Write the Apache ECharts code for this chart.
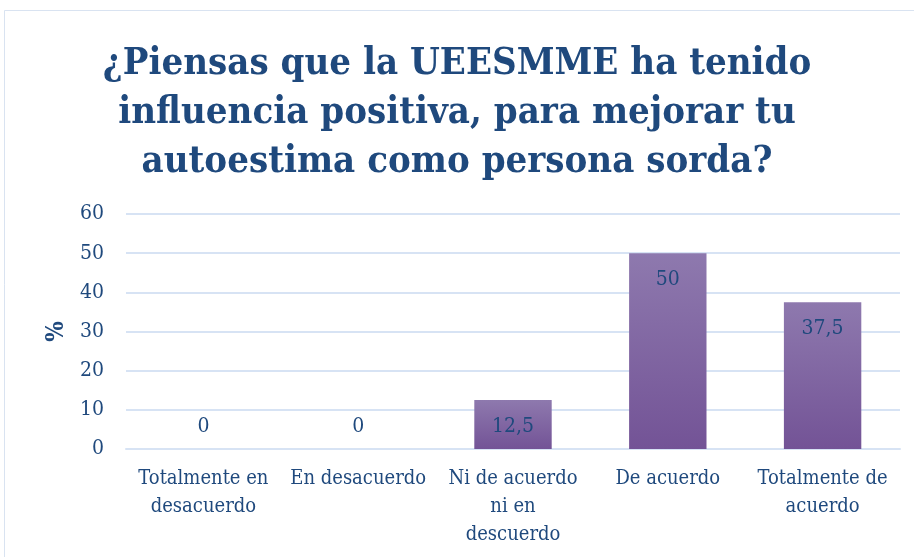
<!DOCTYPE html>
<html>
<head>
<meta charset="utf-8">
<script src="https://cdn.jsdelivr.net/npm/echarts@6/dist/echarts.min.js"></script>
<style>
  html, body { margin: 0; padding: 0; background: #fff; }
  #chart { width: 914px; height: 557px; }
</style>
</head>
<body>
<div id="chart"></div>
<script>
const titleText = '¿Piensas que la UEESMME ha tenido\ninfluencia positiva, para mejorar tu\nautoestima como persona sorda?'
const categories = [
  'Totalmente en\ndesacuerdo',
  'En desacuerdo',
  'Ni de acuerdo\nni en\ndescuerdo',
  'De acuerdo',
  'Totalmente de\nacuerdo',
]
const values = [0, 0, 12.5, 50, 37.5]
const yTicks = [0, 10, 20, 30, 40, 50, 60]

const font = '"DejaVu Serif Condensed", "DejaVu Serif", serif'
const textColor = '#1f497d'

const chart = echarts.init(document.getElementById('chart'))
chart.setOption({
  backgroundColor: '#fff',
  graphic: [{
    type: 'rect',
    shape: { x: 4.5, y: 10.5, width: 920, height: 560 },
    style: { fill: 'none', stroke: '#d9e3f1', lineWidth: 1 },
  }],
  title: {
    text: titleText,
    left: 'center',
    top: 35,
    textStyle: { fontFamily: font, fontSize: 38, fontWeight: 'bold', color: textColor, lineHeight: 49 },
  },
  grid: { left: 126, right: 14, top: 214, bottom: 108 },
  xAxis: {
    type: 'category',
    data: categories,
    axisLine: { lineStyle: { color: '#d7e3f4', width: 2 } },
    axisTick: { show: false },
    axisLabel: { fontFamily: font, fontSize: 20, color: textColor, lineHeight: 28, margin: 16, interval: 0 },
  },
  yAxis: {
    type: 'value',
    min: yTicks[0],
    max: yTicks[yTicks.length - 1],
    interval: 10,
    name: '%',
    nameLocation: 'middle',
    nameGap: 54,
    nameRotate: 90,
    nameTextStyle: { fontFamily: font, fontSize: 24, fontWeight: 'bold', color: textColor },
    axisLine: { show: false },
    axisTick: { show: false },
    axisLabel: { fontFamily: font, fontSize: 21, color: textColor, margin: 22 },
    splitLine: { lineStyle: { color: '#d7e3f4', width: 2 } },
  },
  series: [{
    type: 'bar',
    barWidth: '50%',
    data: values.map(v => ({
      value: v,
      label: v === 0
        ? { position: 'top', distance: 12 }
        : { position: 'insideTop', distance: 16 },
    })),
    itemStyle: {
      color: new echarts.graphic.LinearGradient(0, 0, 0, 1, [
        { offset: 0, color: '#8e79ae' },
        { offset: 1, color: '#735396' },
      ]),
    },
    label: {
      show: true,
      fontFamily: font,
      fontSize: 21,
      color: textColor,
      formatter: p => String(p.value).replace('.', ','),
    },
  }],
})
</script>
</body>
</html>
